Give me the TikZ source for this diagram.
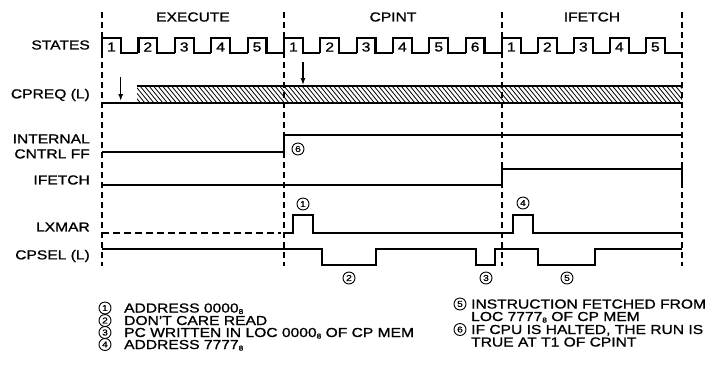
\documentclass[tikz,border=0pt]{standalone}
\usepackage{fontspec}
\setmainfont[FakeStretch=1.2,FakeBold=1.1]{Liberation Sans}
\usepackage{tikz}
\usetikzlibrary{arrows.meta}

\newcommand{\octal}{\smash{\raisebox{-1.5pt}{\fontsize{7}{7}\selectfont 8}}}

\tikzset{
  sig/.style={line width=2.2pt},
  guide/.style={line width=1.1pt,dash pattern=on 6pt off 4pt},
  lbl/.style={font=\fontsize{13}{15}\selectfont,inner sep=0pt},
  circnum/.style={draw,circle,line width=0.9pt,minimum size=12pt,inner sep=0pt,
    font=\fontsize{8.5}{8.5}\selectfont},
}

\begin{document}
\begin{tikzpicture}[x=1pt,y=-1pt]
  \useasboundingbox (0,0) rectangle (721,368);

  % phase boundaries
  \foreach \x in {102,284,502,682}
    \draw[guide] (\x,12) -- (\x,266);

  \node[lbl] (ph-exe) at (193,17) {EXECUTE};
  \node[lbl] (ph-cpint) at (393,17) {CPINT};
  \node[lbl] (ph-ifetch) at (592,17) {IFETCH};

  % signal names
  \node[lbl,anchor=east] (n-states) at (90,45) {STATES};
  \node[lbl,anchor=east] (n-cpreq) at (90,95) {CPREQ (L)};
  \node[lbl,anchor=east,align=right] (n-cntrl) at (90,146.5) {INTERNAL\\CNTRL FF};
  \node[lbl,anchor=east] (n-ifetch) at (90,180) {IFETCH};
  \node[lbl,anchor=east] (n-lxmar) at (90,227) {LXMAR};
  \node[lbl,anchor=east] (n-cpsel) at (90,256) {CPSEL (L)};

  % states
  \foreach \s/\w/\n [count=\k] in {102/36.4/5,284/36.33/6,502/36/5}{
    \foreach \i in {1,...,\n}{
      \pgfmathsetmacro\xa{\s+(\i-1)*\w}
      \pgfmathsetmacro\xb{\xa+0.52*\w}
      \pgfmathsetmacro\xc{\xa+\w}
      \draw[sig] (\xa,53) -- (\xa,38) -- (\xb,38) -- (\xb,53) -- (\xc,53);
      \node[lbl] (st-\k-\i) at ({(\xa+\xb)/2},47) {\i};
    }
  }

  % cpreq
  \begin{scope}
    \clip (137,86) rectangle (682,103);
    \foreach \x in {122,126.5,...,682}
      \draw[line width=0.8pt] (\x,86) -- (\x+14,103);
  \end{scope}
  \draw[sig] (137,86) -- (682,86);
  \draw[sig] (102,103) -- (682,103);
  \draw[line width=1.3pt,-{Latex[length=7pt,width=5pt]}] (120.7,77) -- (120.7,101);
  \draw[line width=1.3pt,-{Latex[length=7pt,width=5pt]}] (303,62) -- (303,85);

  % internal cntrl ff
  \draw[sig] (102,152) -- (284,152) -- (284,135) -- (682,135);
  \node[circnum] (c6) at (298,149) {6};

  % ifetch
  \draw[sig] (102,185) -- (502,185) -- (502,169) -- (682,169) -- (682,186);

  % lxmar
  \draw[sig,dash pattern=on 7pt off 4pt] (102,233) -- (281,233);
  \draw[sig] (285,233) -- (293,233) -- (293,215) -- (313,215) -- (313,233)
    -- (513,233) -- (513,215) -- (533,215) -- (533,233) -- (682,233);
  \node[circnum] (c1) at (303,204) {1};
  \node[circnum] (c4) at (523,203) {4};

  % cpsel
  \draw[sig] (102,249) -- (322,249) -- (322,265) -- (376,265) -- (376,249)
    -- (476,249) -- (476,265) -- (495,265) -- (495,249) -- (538,249)
    -- (538,265) -- (595,265) -- (595,249) -- (682,249);
  \node[circnum] (c2) at (349,278) {2};
  \node[circnum] (c3) at (486,278) {3};
  \node[circnum] (c5) at (567,278) {5};

  % notes
  \node[circnum] (k1) at (105,308) {1};
  \node[circnum] (k2) at (105,320.5) {2};
  \node[circnum] (k3) at (105,332.5) {3};
  \node[circnum] (k4) at (105,344.5) {4};
  \node[lbl,anchor=base west] (t1) at (124,312.5) {ADDRESS 0000\octal};
  \node[lbl,anchor=base west] (t2) at (124,325) {DON'T CARE READ};
  \node[lbl,anchor=base west] (t3) at (124,337) {PC WRITTEN IN LOC 0000\octal\ OF CP MEM};
  \node[lbl,anchor=base west] (t4) at (124,349) {ADDRESS 7777\octal};

  \node[circnum] (k5) at (460,304) {5};
  \node[circnum] (k6) at (460,329.5) {6};
  \node[lbl,anchor=base west] (t5) at (471,308.5) {INSTRUCTION FETCHED FROM};
  \node[lbl,anchor=base west] (t5b) at (471,321) {LOC 7777\octal\ OF CP MEM};
  \node[lbl,anchor=base west] (t6) at (471,334) {IF CPU IS HALTED, THE RUN IS};
  \node[lbl,anchor=base west] (t6b) at (471,346.5) {TRUE AT T1 OF CPINT};
\end{tikzpicture}
\end{document}
